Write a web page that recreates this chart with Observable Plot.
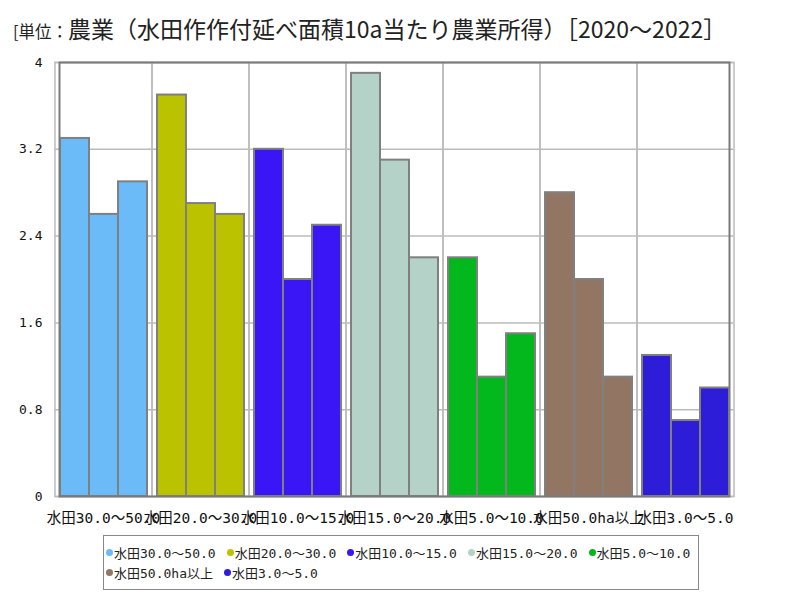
<!DOCTYPE html>
<html><head><meta charset="utf-8">
<script src="https://cdn.jsdelivr.net/npm/d3@7"></script>
<script src="https://cdn.jsdelivr.net/npm/@observablehq/plot@0.6"></script>
<style>
body{margin:0;background:#fff;}
#wrap{width:800px;height:600px;position:relative;overflow:hidden;background:#fff;}
#title{position:absolute;left:13px;top:12px;font-family:"Noto Sans CJK JP",sans-serif;font-size:23px;line-height:32px;color:#222;white-space:nowrap;}
#title .unit{font-size:16.5px;}
#chart{position:absolute;left:0;top:50px;}
#legend{position:absolute;left:103px;top:535px;width:596px;height:55px;border:1.5px solid #888;box-sizing:border-box;padding:6px 0 0 2px;display:flex;flex-wrap:wrap;align-content:flex-start;column-gap:11px;font-family:"DejaVu Sans Mono","Noto Sans CJK JP",monospace;font-size:13px;color:#222;}
.item{display:flex;align-items:center;height:20px;white-space:nowrap;}
.dot{width:7px;height:7px;border-radius:50%;margin-right:1px;}
</style></head>
<body>
<div id="wrap">
  <div id="title"><span class="unit">[単位：</span>農業（水田作作付延べ面積10a当たり農業所得）［2020～2022］</div>
  <div id="chart"></div>
  <div id="legend"></div>
</div>
<script>
const categories = ["水田30.0～50.0","水田20.0～30.0","水田10.0～15.0","水田15.0～20.0","水田5.0～10.0","水田50.0ha以上","水田3.0～5.0"];
const years = ["2020","2021","2022"];
const values2020 = [3.3, 3.7, 3.2, 3.9, 2.2, 2.8, 1.3];
const values2021 = [2.6, 2.7, 2.0, 3.1, 1.1, 2.0, 0.7];
const values2022 = [2.9, 2.6, 2.5, 2.2, 1.5, 1.1, 1.0];
const colors = ["#6bbbf8","#bbc200","#3a16f6","#b5d2c9","#02b81c","#937563","#2e1dd8"];
const yTicks = [0, 0.8, 1.6, 2.4, 3.2, 4];

const series = [values2020, values2021, values2022];
const data = categories.flatMap((c, i) => series.map((vs, j) => ({cat: c, year: years[j], value: vs[i]})));

const W = 800, H = 480, ml = 54, mr = 66, mt = 12, mb = 34;
const pi = 0.093, po = 0.0465;
const step = (W - ml - mr) / (categories.length - pi + 2 * po);
const half = step * pi / 2;

const plot = Plot.plot({
  width: W, height: H,
  marginLeft: ml, marginRight: mr, marginTop: mt, marginBottom: mb,
  style: {fontFamily: "'DejaVu Sans Mono','Noto Sans CJK JP',monospace", fontSize: "13px", color: "#111", background: "#fff"},
  fx: {domain: categories, paddingInner: pi, paddingOuter: po, label: null},
  x: {domain: years, padding: 0, axis: null},
  y: {domain: [0, 4], label: null},
  color: {domain: categories, range: colors},
  marks: [
    Plot.gridY(yTicks, {stroke: "#bbb", strokeOpacity: 1, strokeWidth: 1.5, insetLeft: -half, insetRight: -half}),
    Plot.frame({stroke: "#bbb", strokeWidth: 1.5, insetLeft: -half, insetRight: -half}),
    Plot.barY(data, {fx: "cat", x: "year", y: "value", fill: "cat", stroke: "#808080", strokeWidth: 2}),
    Plot.frame({facet: "super", stroke: "#7a7a7a", strokeWidth: 2}),
    Plot.axisY(yTicks, {tickSize: 0, tickPadding: 17, tickFormat: d => String(d), fontSize: 13, fill: "#111"}),
    Plot.axisFx({anchor: "bottom", tickSize: 0, tickPadding: 16, label: null, fontSize: 14.5, fill: "#111"})
  ]
});
document.getElementById("chart").appendChild(plot);

const legend = d3.select("#legend");
categories.forEach((c, i) => {
  const it = legend.append("div").attr("class", "item");
  it.append("div").attr("class", "dot").style("background", plot.scale("color").apply(c));
  it.append("span").text(c);
});
</script>
</body></html>
